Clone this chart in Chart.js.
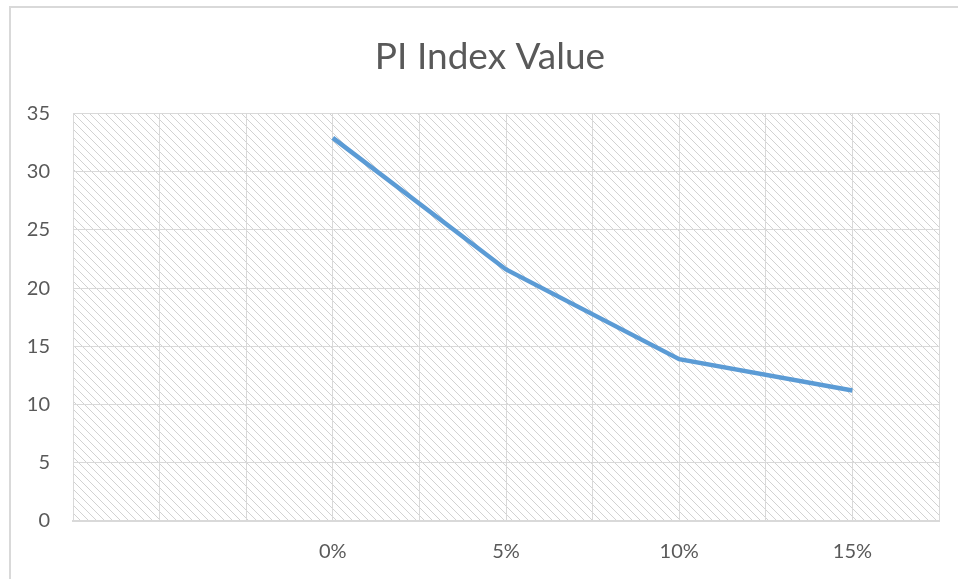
<!DOCTYPE html>
<html>
<head>
<meta charset="utf-8">
<script src="https://cdn.jsdelivr.net/npm/chart.js@4.4.0/dist/chart.umd.min.js"></script>
<style>
  html, body { margin: 0; padding: 0; background: #fff; }
</style>
</head>
<body>
<canvas id="myChart" width="958" height="579"></canvas>
<script>
// DATA
const categories = ['', '0%', '5%', '10%', '15%'];
const piValues = [null, 32.9, 21.6, 13.9, 11.2];
const yTicks = [0, 5, 10, 15, 20, 25, 30, 35];

const points = [];
for (let i = 0; i < categories.length; i++) {
  if (piValues[i] !== null) points.push({x: i, y: piValues[i]});
}

// hatch pattern for the plot area
function makeHatch() {
  const c = document.createElement('canvas');
  c.width = 8; c.height = 8;
  const g = c.getContext('2d');
  g.strokeStyle = '#d2d2d2';
  g.lineWidth = 1;
  g.beginPath();
  g.moveTo(-1, -1); g.lineTo(9, 9);
  g.moveTo(-1, 7); g.lineTo(1, 9);
  g.moveTo(7, -1); g.lineTo(9, 1);
  g.stroke();
  return g.createPattern(c, 'repeat');
}

const bgPlugin = {
  id: 'bgPlugin',
  afterLayout(chart) {
    // centre the title a bit to the right, like the original
    if (chart.titleBlock) {
      chart.titleBlock.left = 40;
      chart.titleBlock.right = 940;
    }
  },
  beforeDraw(chart) {
    const ctx = chart.ctx;
    const a = chart.chartArea;
    ctx.save();
    // outer frame
    ctx.strokeStyle = '#d9d9d9';
    ctx.lineWidth = 2;
    ctx.beginPath();
    ctx.moveTo(10, chart.height);
    ctx.lineTo(10, 7);
    ctx.lineTo(chart.width, 7);
    ctx.stroke();
    // hatched plot area
    ctx.fillStyle = makeHatch();
    ctx.fillRect(a.left, a.top, a.right - a.left, a.bottom - a.top);
    ctx.restore();
  }
};

const ctx = document.getElementById('myChart').getContext('2d');
const myChart = new Chart(ctx, {
  type: 'line',
  data: {
    datasets: [{
      label: 'PI Index Value',
      data: points,
      borderColor: '#5b9bd5',
      backgroundColor: '#5b9bd5',
      borderWidth: 4.5,
      pointRadius: 0,
      tension: 0,
      fill: false
    }]
  },
  options: {
    responsive: false,
    animation: false,
    layout: { padding: { left: 10, right: 18, top: 7, bottom: 0 } },
    plugins: {
      legend: { display: false },
      tooltip: { enabled: false },
      title: {
        display: true,
        text: 'PI Index Value',
        color: '#595959',
        font: { family: 'Lato', size: 37, weight: 'normal' },
        padding: { top: 28, bottom: 34 }
      }
    },
    scales: {
      x: {
        type: 'linear',
        min: -0.5,
        max: categories.length - 0.5,
        afterBuildTicks(scale) {
          const t = [];
          for (let v = -0.5; v <= categories.length - 0.5 + 0.01; v += 0.5) t.push({value: v});
          scale.ticks = t;
        },
        afterFit(scale) { scale.height = 58; },
        grid: { color: '#d9d9d9', lineWidth: 1, drawTicks: false },
        border: { color: '#d9d9d9', width: 2 },
        ticks: {
          padding: 19,
          color: '#595959',
          font: { family: 'Lato', size: 20 },
          autoSkip: false,
          maxRotation: 0,
          callback: function(value) {
            return Number.isInteger(value) ? categories[value] : '';
          }
        }
      },
      y: {
        min: 0,
        max: 35,
        afterBuildTicks(scale) {
          scale.ticks = yTicks.map(v => ({value: v}));
        },
        afterFit(scale) { scale.width = 63; },
        grid: { color: '#d9d9d9', lineWidth: 1, drawTicks: false },
        border: { display: false },
        ticks: {
          padding: 23,
          color: '#595959',
          font: { family: 'Lato', size: 20 }
        }
      }
    }
  },
  plugins: [bgPlugin]
});
</script>
</body>
</html>
